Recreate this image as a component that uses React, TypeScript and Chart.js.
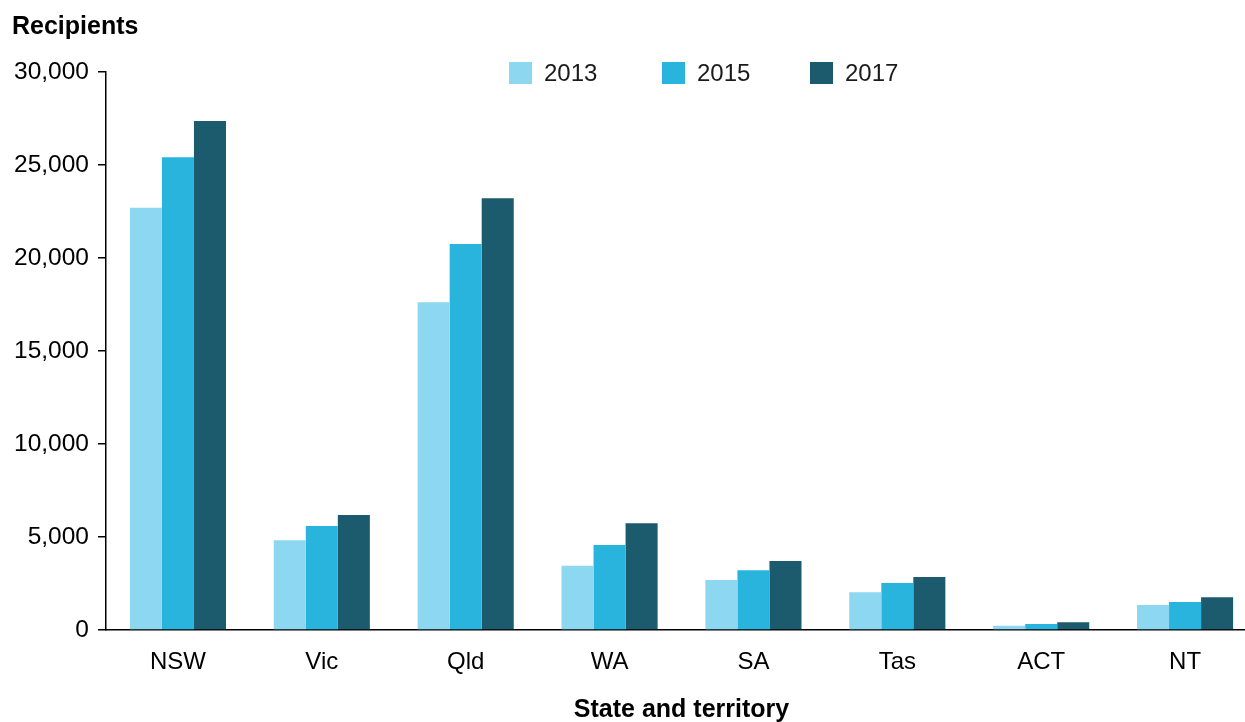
import React, { useEffect, useRef } from "react";
import { Chart, registerables } from "chart.js";

Chart.register(...registerables);

const categories = ["NSW", "Vic", "Qld", "WA", "SA", "Tas", "ACT", "NT"];
const seriesLabels = ["2013", "2015", "2017"];
const values2013 = [22700, 4820, 17620, 3460, 2690, 2030, 230, 1340];
const values2015 = [25410, 5590, 20750, 4570, 3210, 2530, 320, 1510];
const values2017 = [27370, 6180, 23210, 5740, 3710, 2850, 410, 1760];
const colors = ["#8dd7f0", "#28b4dd", "#1c5a6e"];
const yTicks = [0, 5000, 10000, 15000, 20000, 25000, 30000];

const FONT = "'Liberation Sans', Arial, sans-serif";

const overlayPlugin = {
  id: "overlay",
  afterDraw(chart: any) {
    const ctx = chart.ctx;
    ctx.save();
    ctx.fillStyle = "#000";
    ctx.font = `bold 25px ${FONT}`;
    ctx.textBaseline = "middle";
    ctx.textAlign = "left";
    ctx.fillText("Recipients", 12, 27);
    const xs = [509, 662, 810];
    chart.data.datasets.forEach((ds: any, i: number) => {
      ctx.fillStyle = ds.backgroundColor;
      ctx.fillRect(xs[i], 62, 23, 22);
      ctx.fillStyle = "#1a1a1a";
      ctx.font = `24px ${FONT}`;
      ctx.fillText(ds.label, xs[i] + 35, 74);
    });
    ctx.restore();
  },
};

export default function App() {
  const ref = useRef<HTMLCanvasElement | null>(null);
  useEffect(() => {
    if (!ref.current) return;
    const data = [values2013, values2015, values2017];
    const chart = new Chart(ref.current, {
      type: "bar",
      data: {
        labels: categories,
        datasets: seriesLabels.map((label, i) => ({
          label,
          data: data[i],
          backgroundColor: colors[i],
          borderWidth: 0,
          barPercentage: 1,
          categoryPercentage: 0.668,
        })),
      },
      options: {
        responsive: false,
        animation: false,
        layout: { padding: { top: 72, left: 0, right: 0, bottom: 0 } },
        plugins: {
          legend: { display: false },
          tooltip: { enabled: false },
          title: { display: false },
        },
        scales: {
          x: {
            grid: { display: false },
            border: { display: true, color: "#000", width: 1.5 },
            ticks: { color: "#000", font: { family: FONT, size: 24 }, padding: 10 },
            title: {
              display: true,
              text: "State and territory",
              color: "#000",
              font: { family: FONT, size: 25, weight: "bold" },
              padding: { top: 0, bottom: -3 },
            },
            afterFit: (s: any) => {
              s.height = 92;
            },
          },
          y: {
            min: 0,
            max: 30000,
            afterBuildTicks: (s: any) => {
              s.ticks = yTicks.map((v) => ({ value: v }));
            },
            grid: {
              drawOnChartArea: false,
              drawTicks: true,
              tickLength: 8,
              color: "#000",
              lineWidth: 1.5,
            },
            border: { display: true, color: "#000", width: 1.5 },
            ticks: {
              color: "#000",
              font: { family: FONT, size: 24.5 },
              padding: 9,
              callback: (v: any) => Number(v).toLocaleString("en-US"),
            },
            afterFit: (s: any) => {
              s.width = 106;
            },
          },
        },
      },
      plugins: [overlayPlugin],
    });
    return () => chart.destroy();
  }, []);
  return (
    <div
      style={{
        position: "absolute",
        left: 0,
        top: 0,
        width: 1245,
        height: 722,
        overflow: "hidden",
        background: "#fff",
      }}
    >
      <canvas ref={ref} width={1257} height={722} style={{ display: "block" }} />
    </div>
  );
}
